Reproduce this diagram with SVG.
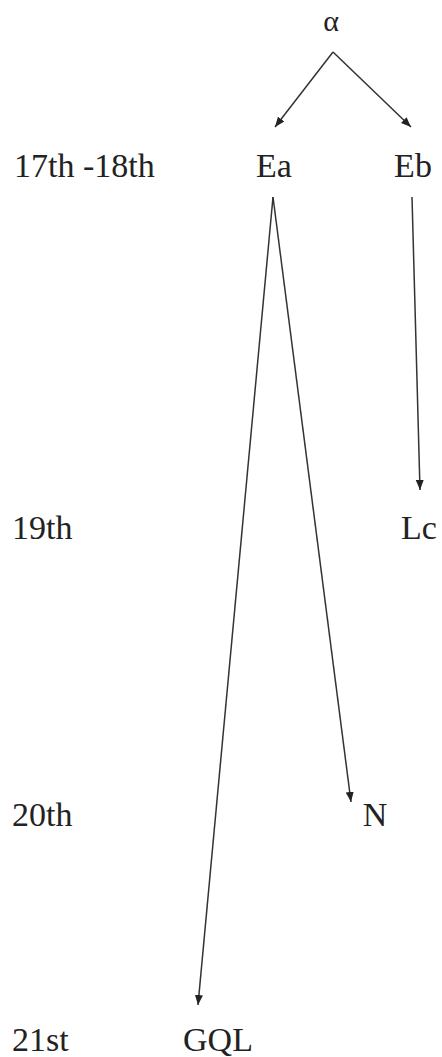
<svg xmlns="http://www.w3.org/2000/svg" width="442" height="1057" viewBox="0 0 442 1057">
<defs>
<marker id="ah" viewBox="0 0 10 10" refX="10" refY="5" markerWidth="10" markerHeight="10" markerUnits="userSpaceOnUse" orient="auto">
<path d="M0,1 L10,5 L0,9 Z" fill="#222"/>
</marker>
<style>
text{font-family:"Liberation Serif","Times New Roman",serif;font-size:34px;fill:#222}
.c{text-anchor:middle}
.e{stroke:#333;stroke-width:1.5;fill:none;marker-end:url(#ah)}
</style>
</defs>
<rect width="442" height="1057" fill="#fff"/>
<g id="labels">
<text x="14" y="177">17th -18th</text>
<text x="12" y="539">19th</text>
<text x="12" y="826">20th</text>
<text x="12" y="1051">21st</text>
</g>
<g id="connectors">
<path class="e" d="M333,52 L275,127"/>
<path class="e" d="M333,52 L411,127"/>
<path class="e" d="M412,197 L420,490"/>
<path class="e" d="M273,197 L351,802"/>
<path class="e" d="M273,197 L198,1005"/>
</g>
<g id="alpha"><text class="c" x="331" y="31" style="font-size:30px">α</text></g>
<g id="Ea"><text class="c" x="274" y="177">Ea</text></g>
<g id="Eb"><text class="c" x="413" y="177">Eb</text></g>
<g id="Lc"><text class="c" x="419" y="539">Lc</text></g>
<g id="N"><text class="c" x="375" y="826">N</text></g>
<g id="GQL"><text class="c" x="218" y="1051">GQL</text></g>
</svg>
